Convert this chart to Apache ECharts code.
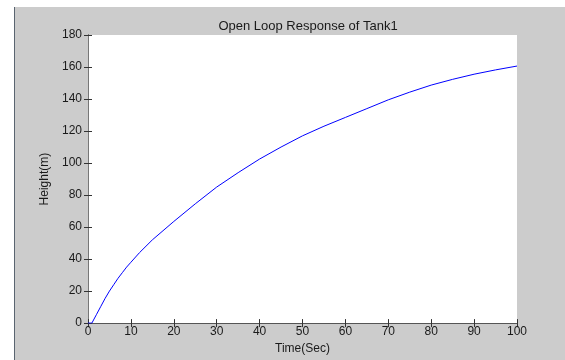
<!DOCTYPE html>
<html>
<head>
<meta charset="utf-8">
<script src="https://cdn.jsdelivr.net/npm/echarts@6/dist/echarts.min.js"></script>
<style>
    body { margin: 0; background: #ffffff; }
    #frame {
        position: absolute; left: 14px; top: 7px;
        width: 550px; height: 353px;
        background: #cccccc;
        border-left: 1px solid #5a6470;
    }
    #chart { width: 550px; height: 353px; }
</style>
</head>
<body>
<div id="frame"><div id="chart"></div></div>
<script>
const times = [0, 0.9, 2, 3, 4, 5, 6, 7, 8, 9, 10, 12, 15, 20, 25, 30, 35, 40, 45, 50, 55, 60, 65, 70, 75, 80, 85, 90, 95, 100]
const heights = [0, 0, 5.5, 10.5, 15.5, 20, 24, 28, 31.5, 35, 38, 44, 52, 63.5, 74.5, 85, 94, 102.5, 110, 117, 123, 128.5, 134, 139.5, 144.3, 148.7, 152.3, 155.5, 158.2, 160.6]

const chart = echarts.init(document.getElementById('chart'))

const labelStyle = { color: '#1a1a1a', fontFamily: 'Liberation Sans', fontSize: 12 }
const tickStyle = { show: true, inside: true, length: 4, lineStyle: { color: '#333' } }

chart.setOption({
    backgroundColor: '#cccccc',
    animation: false,
    title: {
        text: 'Open Loop Response of Tank1',
        left: 288,
        top: 8,
        textAlign: 'center',
        textStyle: { color: '#1a1a1a', fontFamily: 'Liberation Sans', fontSize: 13, fontWeight: 'normal' }
    },
    grid: {
        left: 73, right: 48, top: 28, bottom: 32,
        show: true, backgroundColor: '#ffffff', borderWidth: 0
    },
    xAxis: [
        {
            type: 'value', min: 0, max: 100, interval: 10,
            name: 'Time(Sec)', nameLocation: 'middle', nameGap: 16,
            nameTextStyle: labelStyle,
            axisLine: { onZero: false, lineStyle: { color: '#000' } },
            axisTick: tickStyle,
            axisLabel: { ...labelStyle, margin: 3 },
            splitLine: { show: false }
        },
        {
            type: 'value', min: 0, max: 100, interval: 10, position: 'top',
            axisLine: { show: true, lineStyle: { color: '#555' } },
            axisTick: tickStyle,
            axisLabel: { show: false },
            splitLine: { show: false }
        }
    ],
    yAxis: [
        {
            type: 'value', min: 0, max: 180, interval: 20,
            name: 'Height(m)', nameLocation: 'middle', nameGap: 37,
            nameTextStyle: labelStyle,
            axisLine: { show: true, onZero: false, lineStyle: { color: '#000' } },
            axisTick: tickStyle,
            axisLabel: { ...labelStyle, margin: 6 },
            splitLine: { show: false }
        },
        {
            type: 'value', min: 0, max: 180, interval: 20, position: 'right',
            axisLine: { show: true, lineStyle: { color: '#777' } },
            axisTick: tickStyle,
            axisLabel: { show: false },
            splitLine: { show: false }
        }
    ],
    series: [
        {
            type: 'line',
            data: times.map((t, i) => [t, heights[i]]),
            showSymbol: false,
            smooth: false,
            lineStyle: { color: '#0000ff', width: 1 },
            clip: true
        }
    ]
})
</script>
</body>
</html>
